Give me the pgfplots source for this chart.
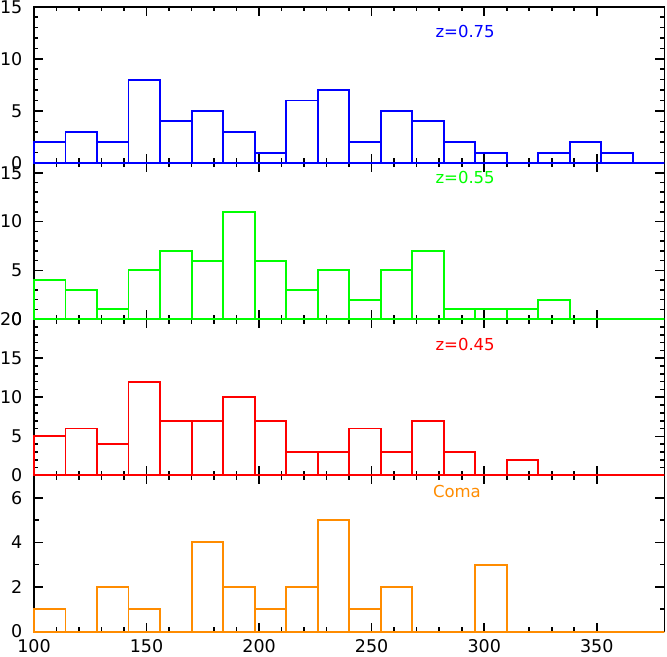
\documentclass[border=0pt]{standalone}
\usepackage{fontspec}
\setmainfont{DejaVu Sans}
\usepackage{pgfplots}
\pgfplotsset{compat=1.18}
\definecolor{cblue}{RGB}{0,0,255}
\definecolor{cgreen}{RGB}{0,255,0}
\definecolor{cred}{RGB}{255,0,0}
\definecolor{corange}{RGB}{255,140,0}
\tikzset{lab/.style={font=\fontsize{16.5}{16.5}\selectfont}}
\pgfplotsset{
  panel/.style={
    scale only axis, width=630.3pt, height=156.2pt,
    xmin=100, xmax=380, ymin=0,
    xtick={100,150,...,350}, minor x tick num=4,
    minor y tick num=4,
    tick align=inside,
    major tick length=9pt, minor tick length=4.5pt,
    axis line style={line width=1.6pt, black},
    every tick/.style={black, line width=1.6pt},
    /pgf/number format/assume math mode=true,
    tick label style={font=\fontsize{17.5}{17.5}\selectfont, black},
    yticklabel style={inner sep=0pt, xshift=-11.5pt},
    xticklabel style={inner sep=0pt, yshift=-8pt},
    clip=false,
  },
  hist/.style={ybar interval, fill=none, line width=1.9pt},
}
\begin{document}
\begin{tikzpicture}
\path[use as bounding box] (-34pt,-24.5pt) rectangle (633pt,631.6pt);
% Panel 4: Coma
\begin{axis}[panel, at={(0pt,0pt)}, anchor=south west, ymax=7, ytick={0,2,4,6}, minor y tick num=1]
\addplot[hist, draw=corange] table {
x y
100 1
114 0
128 2
142 1
156 0
170 4
184 2
198 1
212 2
226 5
240 1
254 2
268 0
282 0
296 3
310 0
324 0
338 0
352 0
366 0
380 0
};
\node[text=corange, lab] at (rel axis cs:0.671,0.895) {Coma};
\end{axis}
% Panel 3: z=0.45
\begin{axis}[panel, at={(0pt,156.2pt)}, anchor=south west, ymax=20, ytick={0,5,10,15,20}, xticklabels={}]
\addplot[hist, draw=cred] table {
x y
100 5
114 6
128 4
142 12
156 7
170 7
184 10
198 7
212 3
226 3
240 6
254 3
268 7
282 3
296 0
310 2
324 0
338 0
352 0
366 0
380 0
};
\node[text=cred, lab] at (rel axis cs:0.684,0.838) {z=0.45};
\end{axis}
% Panel 2: z=0.55
\begin{axis}[panel, at={(0pt,312.4pt)}, anchor=south west, ymax=16, ytick={0,5,10,15}, xticklabels={}]
\addplot[hist, draw=cgreen] table {
x y
100 4
114 3
128 1
142 5
156 7
170 6
184 11
198 6
212 3
226 5
240 2
254 5
268 7
282 1
296 1
310 1
324 2
338 0
352 0
366 0
380 0
};
\node[text=cgreen, lab] at (rel axis cs:0.684,0.906) {z=0.55};
\end{axis}
% Panel 1: z=0.75
\begin{axis}[panel, at={(0pt,468.6pt)}, anchor=south west, ymax=15, ytick={0,5,10,15}, xticklabels={}]
\addplot[hist, draw=cblue] table {
x y
100 2
114 3
128 2
142 8
156 4
170 5
184 3
198 1
212 6
226 7
240 2
254 5
268 4
282 2
296 1
310 0
324 1
338 2
352 1
366 0
380 0
};
\node[text=cblue, lab] at (rel axis cs:0.684,0.839) {z=0.75};
\end{axis}
\end{tikzpicture}
\end{document}
